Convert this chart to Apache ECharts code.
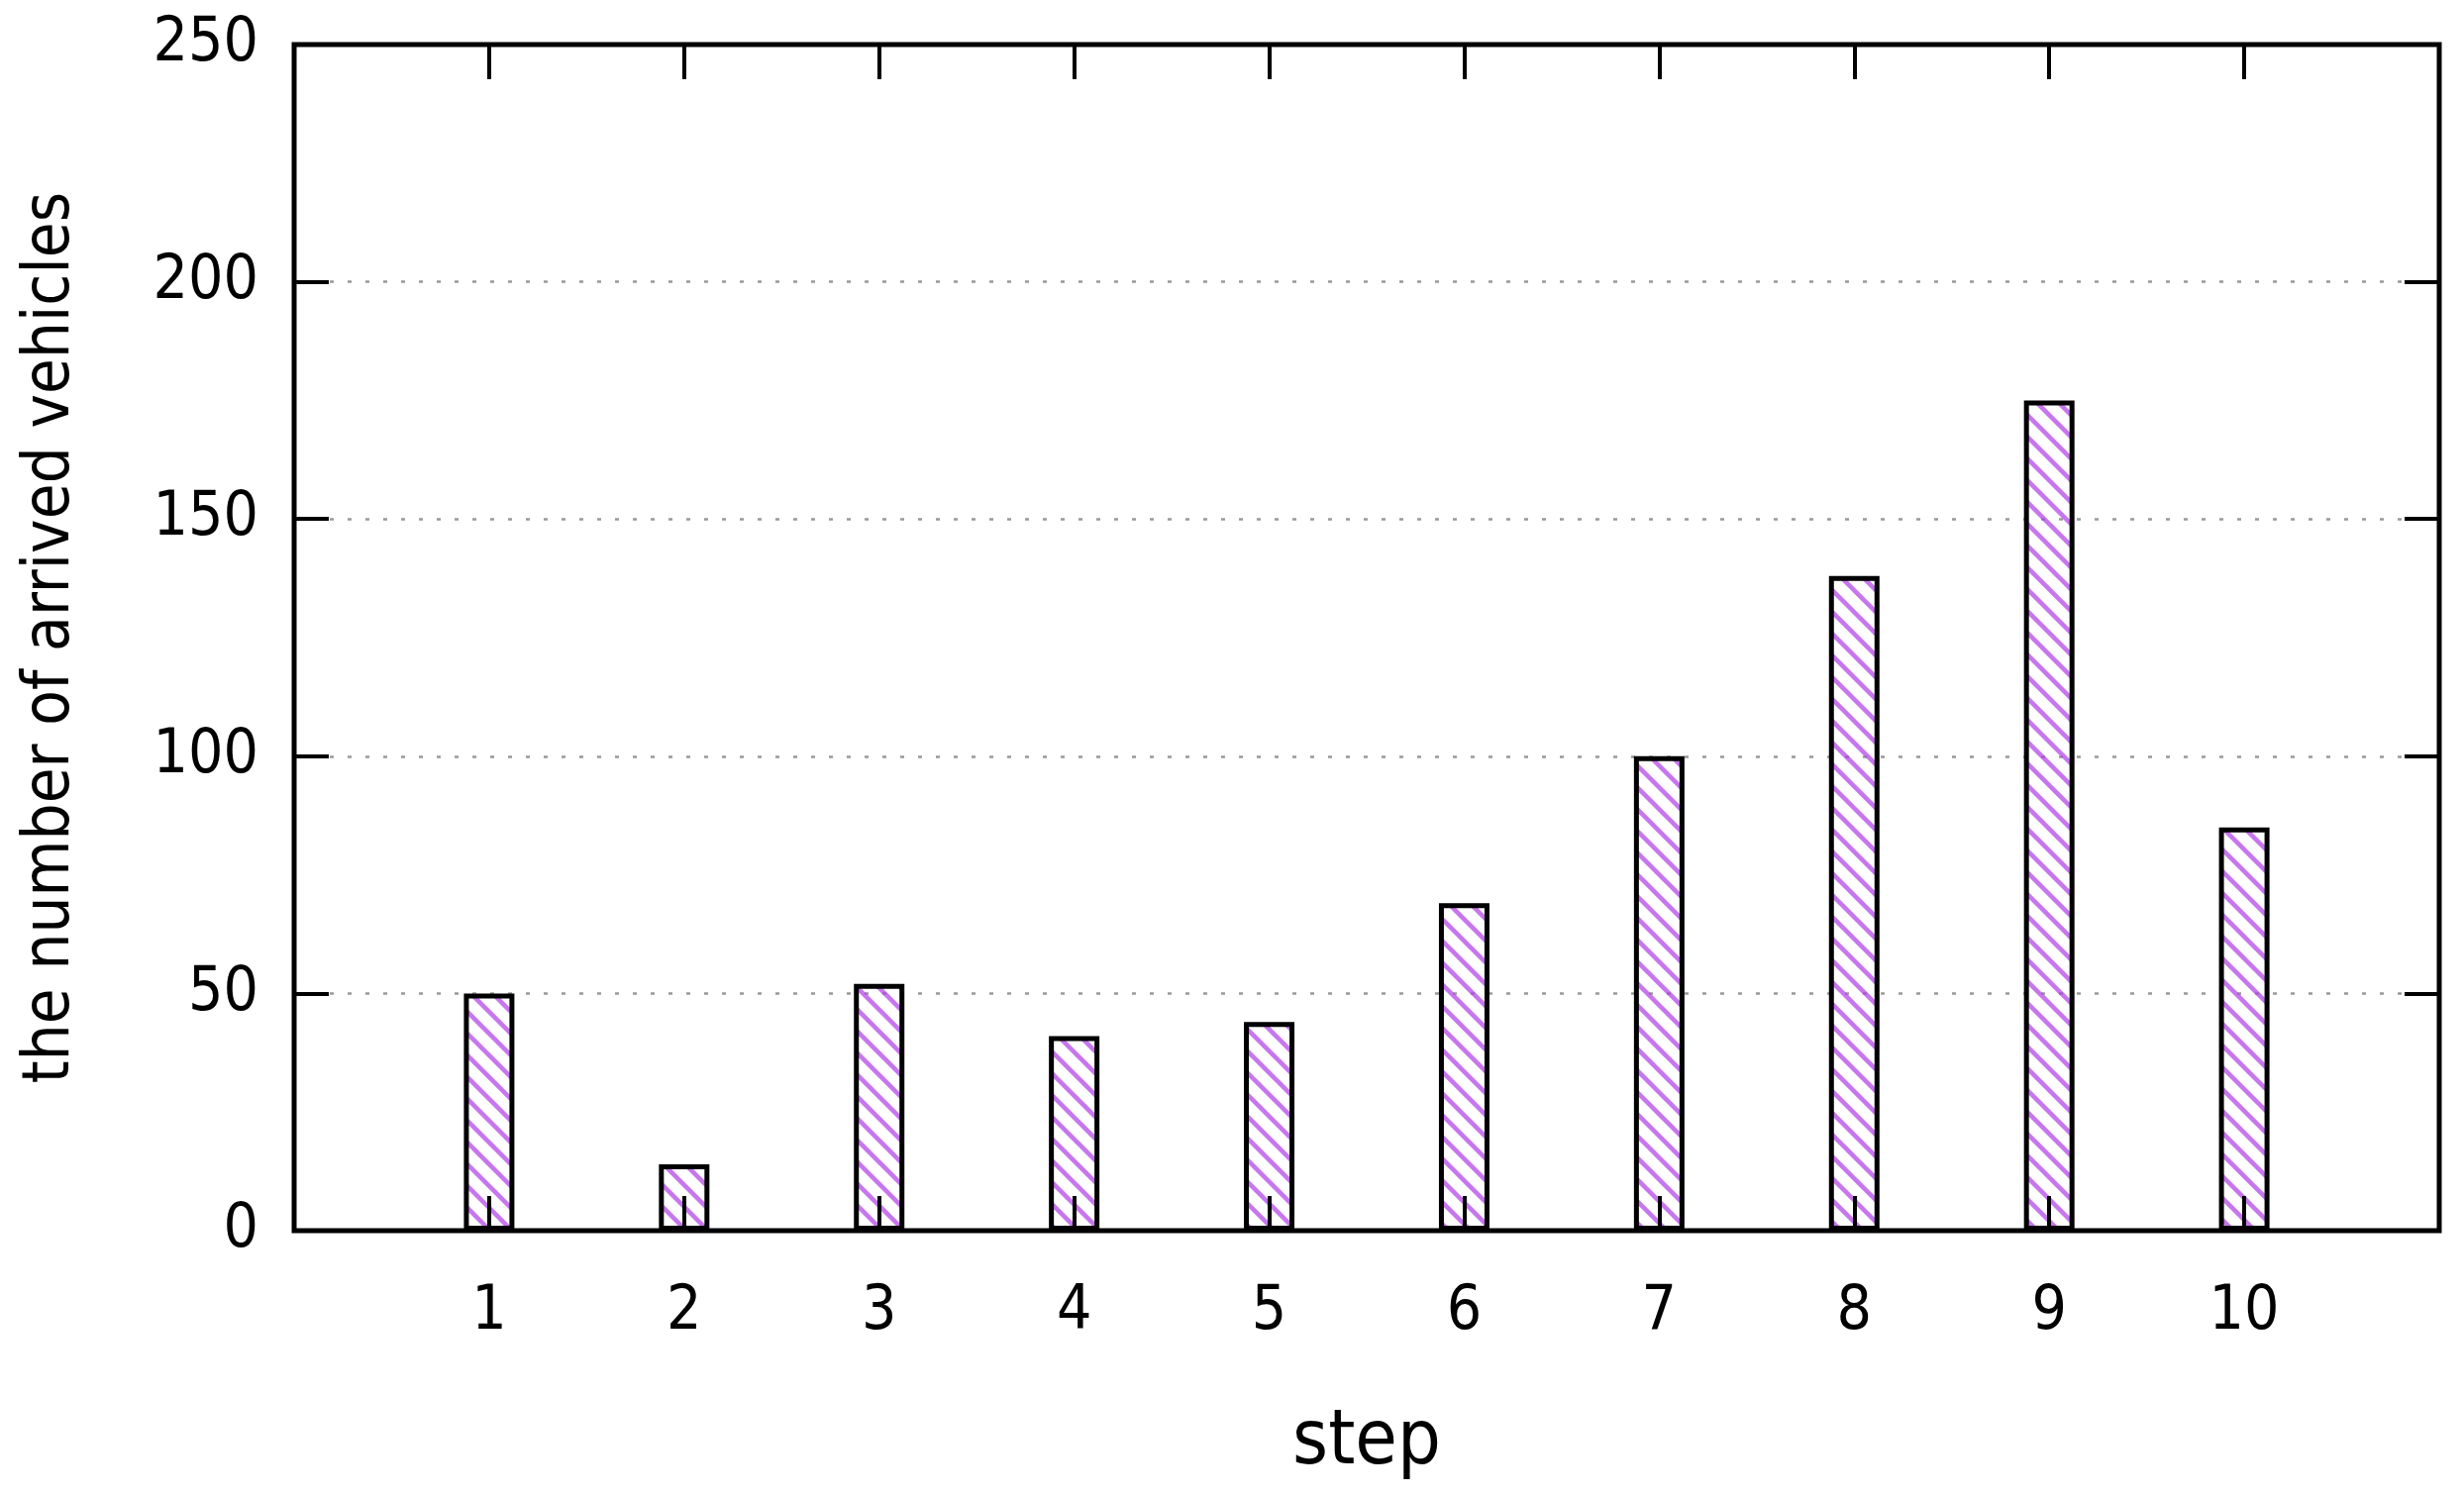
<!DOCTYPE html>
<html>
<head>
<meta charset="utf-8">
<script src="https://cdn.jsdelivr.net/npm/echarts@6/dist/echarts.min.js"></script>
<style>
  html, body { margin: 0; padding: 0; background: #fff; }
  #chart { width: 2488px; height: 1511px; }
</style>
</head>
<body>
<div id="chart"></div>
<script>
  // 数据
  const steps = [1, 2, 3, 4, 5, 6, 7, 8, 9, 10];
  const arrived = [50, 14, 52, 41, 44, 69, 100, 138, 175, 85];
  const yTicks = [0, 50, 100, 150, 200, 250];

  const font = "'DejaVu Sans Condensed', 'DejaVu Sans', sans-serif";

  // 斜线填充
  function makeHatch() {
    const T = 22;
    const c = document.createElement('canvas');
    c.width = T;
    c.height = T;
    const ctx = c.getContext('2d');
    ctx.strokeStyle = 'rgba(175,60,230,0.7)';
    ctx.lineWidth = 4.5;
    ctx.beginPath();
    ctx.moveTo(-3, -3); ctx.lineTo(T + 3, T + 3);
    ctx.moveTo(T - 4, -4); ctx.lineTo(T + 4, 4);
    ctx.moveTo(-4, T - 4); ctx.lineTo(4, T + 4);
    ctx.stroke();
    return c;
  }

  const barData = steps.map((s, i) => [s, arrived[i]]);

  const chart = echarts.init(document.getElementById('chart'), null, { renderer: 'canvas' });

  const tickStyle = { show: true, inside: true, length: 35, lineStyle: { color: '#000', width: 4 } };
  const noLine = { show: false, onZero: false };

  const option = {
    animation: false,
    backgroundColor: '#fff',
    grid: {
      left: 297, right: 25, top: 45, bottom: 268,
      show: true, borderColor: '#000', borderWidth: 5, backgroundColor: 'transparent'
    },
    xAxis: [{
      type: 'value',
      min: 0, max: 11, interval: 1,
      position: 'bottom',
      z: 5,
      name: 'step',
      nameLocation: 'middle',
      nameGap: 176,
      nameTextStyle: { fontFamily: font, fontSize: 77, color: '#000' },
      axisLine: noLine,
      axisTick: tickStyle,
      splitLine: { show: false },
      axisLabel: {
        margin: 52,
        fontFamily: font, fontSize: 62, color: '#000',
        formatter: v => steps.indexOf(v) >= 0 ? String(v) : ''
      }
    }, {
      type: 'value',
      min: 0, max: 11, interval: 1,
      position: 'top',
      z: 5,
      axisLine: noLine,
      axisTick: tickStyle,
      splitLine: { show: false },
      axisLabel: { show: false }
    }],
    yAxis: [{
      type: 'value',
      min: yTicks[0], max: yTicks[yTicks.length - 1], interval: 50,
      position: 'left',
      name: 'the number of arrived vehicles',
      nameLocation: 'middle',
      nameGap: 212,
      nameTextStyle: { fontFamily: font, fontSize: 65, color: '#000' },
      axisLine: noLine,
      axisTick: tickStyle,
      axisLabel: { margin: 36, fontFamily: font, fontSize: 62, color: '#000' },
      splitLine: {
        show: true, showMinLine: false, showMaxLine: false,
        lineStyle: { color: '#999', width: 2.5, type: [4, 14] }
      }
    }, {
      type: 'value',
      min: yTicks[0], max: yTicks[yTicks.length - 1], interval: 50,
      position: 'right',
      axisLine: noLine,
      axisTick: tickStyle,
      axisLabel: { show: false },
      splitLine: { show: false }
    }],
    series: [{
      type: 'bar',
      xAxisIndex: 0,
      yAxisIndex: 0,
      data: barData,
      barWidth: 51,
      itemStyle: {
        color: { image: makeHatch(), repeat: 'repeat' },
        borderColor: '#000',
        borderWidth: 5
      }
    }]
  };

  chart.setOption(option);
</script>
</body>
</html>
